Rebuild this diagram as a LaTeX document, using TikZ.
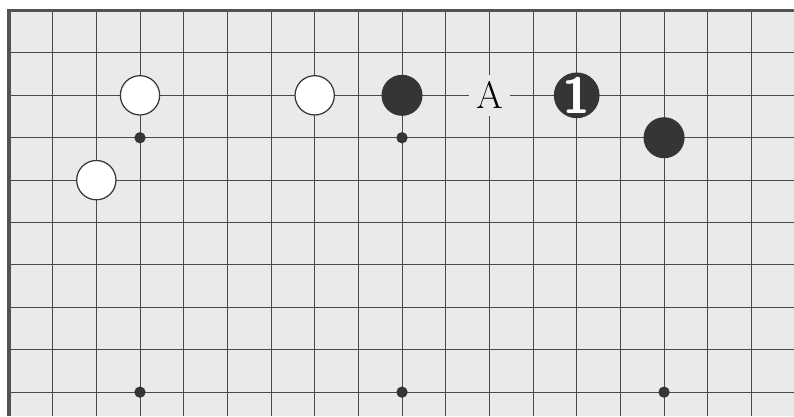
\documentclass[tikz,border=0pt]{standalone}
\usetikzlibrary{positioning}

\definecolor{boardgray}{HTML}{EAEAEA}
\definecolor{linegray}{HTML}{4A4A4A}
\definecolor{stoneblack}{HTML}{353535}

\begin{document}
\begin{tikzpicture}[x=1cm, y=-0.971cm,
    every node/.style={inner sep=0pt},
    grid/.style={draw=linegray, line width=0.6pt},
    boardedge/.style={draw=stoneblack!85, line width=2.4pt},
    hoshi/.style={circle, fill=stoneblack, minimum size=0.26cm},
    wstone/.style={circle, draw=stoneblack, line width=0.8pt, fill=white, minimum size=0.9cm},
    bstone/.style={circle, fill=stoneblack, minimum size=0.94cm},
    letterbox/.style={fill=boardgray, minimum size=0.95cm, font=\fontsize{25}{25}\selectfont}]

  \useasboundingbox (-0.206,-0.248) rectangle (17.976,9.564);
  \fill[white] (-0.206,-0.248) rectangle (17.976,9.564);
  \fill[boardgray] (0,0) rectangle (17.976,9.564);

  % grid
  \foreach \i in {1,...,17}
    \draw[grid] (\i,0) -- (\i,9.564);
  \foreach \j in {1,...,9}
    \draw[grid] (0,\j) -- (17.976,\j);
  \draw[boardedge] (0,9.564) -- (0,0) -- (17.976,0);

  % star points
  \foreach \p in {(3,3),(9,3),(15,3),(3,9),(9,9),(15,9)}
    \node[hoshi] at \p {};

  % stones
  \node[wstone] (w1) at (3,2) {};
  \node[wstone] (w2) at (2,4) {};
  \node[wstone] (w3) at (7,2) {};
  \node[bstone] (b1) at (9,2) {};
  \node[bstone] (b2) at (15,3) {};
  \node[bstone] (b3) at (13,2) {\color{white}\fontsize{33}{33}\selectfont\sffamily\bfseries 1};
  \node[letterbox] (A) at (11,2) {A};
\end{tikzpicture}
\end{document}
